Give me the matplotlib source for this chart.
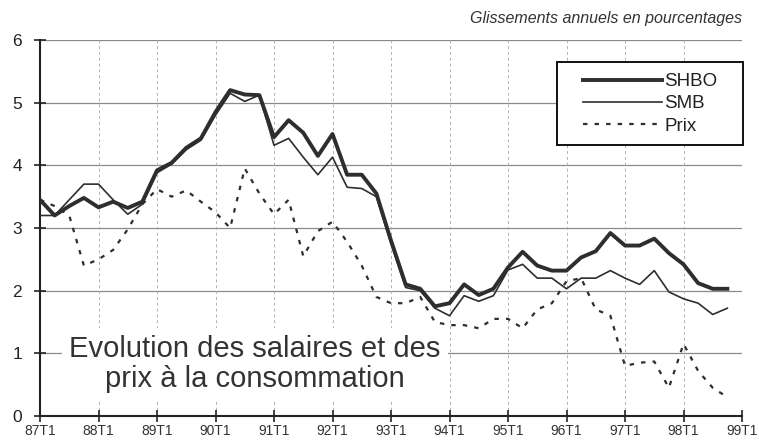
import matplotlib
matplotlib.use("Agg")
import matplotlib.pyplot as plt
from matplotlib.patches import Rectangle
import numpy as np

plt.rcParams['font.family'] = ['Liberation Sans', 'DejaVu Sans']

# Quarterly periods 87T1 .. 98T4
quarters = [f"{y}T{q}" for y in range(87, 99) for q in range(1, 5)]
tick_labels = [f"{y}T1" for y in range(87, 100)]

shbo = [3.45, 3.20, 3.35, 3.48, 3.33, 3.42, 3.32, 3.42,
        3.92, 4.04, 4.28, 4.43, 4.85, 5.20, 5.13, 5.12,
        4.45, 4.72, 4.52, 4.15, 4.50, 3.85, 3.85, 3.55,
        2.80, 2.10, 2.03, 1.75, 1.80, 2.10, 1.93, 2.03,
        2.37, 2.62, 2.40, 2.32, 2.32, 2.53, 2.63, 2.92,
        2.72, 2.72, 2.83, 2.60, 2.42, 2.12, 2.03, 2.03]

smb = [3.20, 3.20, 3.45, 3.70, 3.70, 3.45, 3.22, 3.38,
       3.88, 4.02, 4.25, 4.40, 4.80, 5.15, 5.02, 5.12,
       4.32, 4.43, 4.13, 3.85, 4.13, 3.65, 3.63, 3.50,
       2.75, 2.05, 2.00, 1.72, 1.60, 1.92, 1.83, 1.92,
       2.33, 2.42, 2.20, 2.20, 2.03, 2.20, 2.20, 2.32,
       2.20, 2.10, 2.32, 1.98, 1.87, 1.80, 1.62, 1.72]

prix = [3.45, 3.35, 3.20, 2.40, 2.50, 2.65, 2.98, 3.38,
        3.62, 3.50, 3.60, 3.42, 3.25, 3.00, 3.95, 3.55,
        3.22, 3.45, 2.55, 2.95, 3.10, 2.78, 2.40, 1.90,
        1.80, 1.80, 1.90, 1.50, 1.45, 1.45, 1.40, 1.55,
        1.55, 1.40, 1.70, 1.80, 2.15, 2.20, 1.70, 1.60,
        0.80, 0.85, 0.87, 0.45, 1.15, 0.72, 0.45, 0.30]

x = np.arange(len(quarters))

W, H = 759, 442
fig = plt.figure(figsize=(W / 100, H / 100), dpi=100)
ax = fig.add_axes([40 / W, 1 - 416 / H, (742 - 40) / W, (416 - 40) / H])

line_col = '#2e2e2e'
ax.plot(x, shbo, color=line_col, lw=2.8, label='SHBO', zorder=4)
ax.plot(x, smb, color=line_col, lw=1.2, label='SMB', zorder=4)
ax.plot(x, prix, color=line_col, lw=1.6, linestyle=(0, (2.0, 3.2)), label='Prix', zorder=3)

ax.set_xlim(0, 48)
ax.set_ylim(0, 6)
ax.set_xticks(np.arange(0, 49, 4))
ax.set_xticklabels(tick_labels, fontsize=10, color='#333333')
ax.set_yticks(range(0, 7))
ax.set_yticklabels([str(v) for v in range(0, 7)], fontsize=12.5, color='#222222')

for v in range(1, 7):
    ax.axhline(v, color='#8a8a8a', lw=0.9, zorder=1)
for v in range(4, 49, 4):
    ax.axvline(v, color='#b0b0b0', lw=0.7, linestyle=(0, (3, 3)), zorder=1)

for s in ['top', 'right']:
    ax.spines[s].set_visible(False)
for s in ['left', 'bottom']:
    ax.spines[s].set_linewidth(1.5)
    ax.spines[s].set_color('#222222')
ax.tick_params(axis='both', direction='inout', length=8, width=1.2, color='#222222')
ax.tick_params(axis='x', pad=2)
ax.tick_params(axis='y', pad=9)

leg = ax.legend(loc='upper left', bbox_to_anchor=(583 / W, 1 - 73 / H),
                bbox_transform=fig.transFigure, frameon=False,
                fontsize=13.5, handlelength=4.2, handletextpad=0.15,
                labelspacing=0.28, borderpad=0, borderaxespad=0)
leg.set_zorder(6)
for t in leg.get_texts():
    t.set_color('#222222')

frame = Rectangle((557 / W, 1 - 145 / H), 186 / W, 83 / H, transform=fig.transFigure,
                  facecolor='white', edgecolor='#111111', lw=1.4, zorder=5)
fig.add_artist(frame)
fig.add_artist(leg)

fig.text(742 / W, 1 - 19 / H, 'Glissements annuels en pourcentages', ha='right', va='center',
         fontsize=11.5, style='italic', color='#333333')

fig.text(255 / W, 1 - 364 / H, 'Evolution des salaires et des\nprix à la consommation',
         ha='center', va='center', fontsize=21, color='#333333', linespacing=1.05,
         bbox=dict(facecolor='white', edgecolor='none', pad=5), zorder=5)

fig.savefig('out.png', dpi=100)
